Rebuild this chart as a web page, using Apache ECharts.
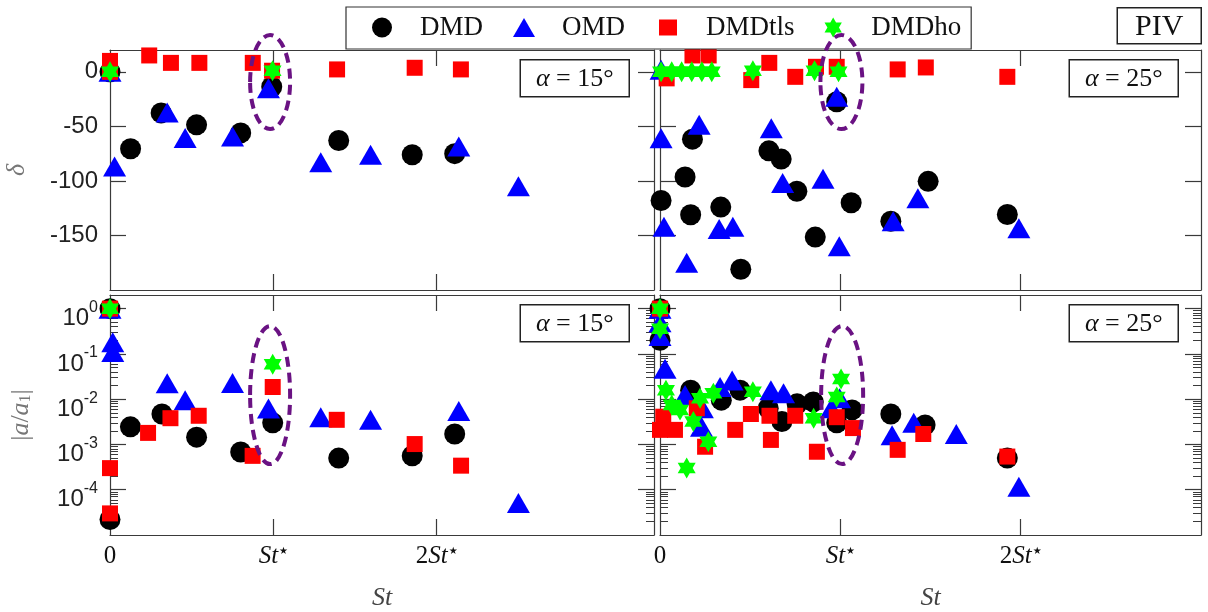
<!DOCTYPE html>
<html>
<head>
<meta charset="utf-8">
<script src="https://cdn.jsdelivr.net/npm/echarts@6/dist/echarts.min.js"></script>
<style>
  html, body { margin: 0; padding: 0; background: #fff; }
  #chart { width: 1208px; height: 612px; }
</style>
</head>
<body>
<div id="chart"></div>
<script>
// x is in units of St*; top row is delta, bottom row is |a/a1| (log)
const xTickValues = [1, 2];
const xLabelValues = [0, 1, 2];
const deltaTicks = [-150, -100, -50, 0];
const ampTicks = [1e-4, 1e-3, 1e-2, 1e-1, 1];
const ampMinorTicks = [
  2e-5, 3e-5, 4e-5, 5e-5, 6e-5, 7e-5, 8e-5, 9e-5,
  2e-4, 3e-4, 4e-4, 5e-4, 6e-4, 7e-4, 8e-4, 9e-4,
  2e-3, 3e-3, 4e-3, 5e-3, 6e-3, 7e-3, 8e-3, 9e-3,
  2e-2, 3e-2, 4e-2, 5e-2, 6e-2, 7e-2, 8e-2, 9e-2,
  0.2, 0.3, 0.4, 0.5, 0.6, 0.7, 0.8, 0.9, 2
];

// alpha = 15 deg, delta
const dmdDelta15 = [[0, 0], [0.126, -70.5], [0.313, -37.7], [0.53, -48.6], [0.80, -56], [0.99, -13.7], [1.40, -63], [1.85, -76], [2.11, -75]];
const omdDelta15 = [[0, 0], [0.028, -86.7], [0.35, -37.4], [0.46, -60.6], [0.75, -59.3], [0.97, -15], [1.29, -83], [1.595, -76], [2.135, -68.4], [2.50, -105]];
const tlsDelta15 = [[0, 0], [0, 10], [0.24, 15], [0.373, 8.2], [0.547, 8.2], [0.874, 8.2], [0.992, 1], [1.39, 2.2], [1.865, 3.7], [2.148, 2.2]];
const hoDelta15 = [[0, 0], [0.995, 1]];

// alpha = 25 deg, delta
const dmdDelta25 = [[0.18, -61.7], [0.139, -96.4], [0.006, -118], [0.17, -131], [0.337, -124], [0.448, -181], [0.604, -72.4], [0.672, -80], [0.759, -109.5], [0.861, -151.5], [0.98, -27.4], [1.06, -120], [1.28, -137], [1.487, -100.4], [1.926, -130.8]];
const omdDelta25 = [[0.006, 2], [0.006, -60.8], [0.217, -48.6], [0.022, -142], [0.148, -175], [0.328, -144], [0.404, -142], [0.617, -51.7], [0.68, -102], [0.904, -98], [0.98, -22.8], [0.994, -160], [1.293, -137], [1.43, -116], [1.99, -143.5]];
const tlsDelta25 = [[0.037, -6], [0.18, 15], [0.27, 15], [0.506, -7.6], [0.606, 8.2], [0.75, -4.6], [0.865, 4.6], [0.98, 4.6], [1.318, 2.2], [1.474, 4], [1.926, -4.6]];
const hoDelta25 = [[0.006, 0], [0.065, 0], [0.12, 0], [0.176, 0], [0.232, 0], [0.287, 0], [0.515, 1], [0.857, 1], [0.99, 0]];

// alpha = 15 deg, |a/a1|
const dmdAmp15 = [[0, 1], [0, 2.2e-5], [0.125, 2.45e-3], [0.318, 4.7e-3], [0.53, 1.45e-3], [0.80, 6.8e-4], [0.996, 3.0e-3], [1.40, 5.0e-4], [1.85, 5.6e-4], [2.11, 1.7e-3]];
const omdAmp15 = [[0, 1], [0.017, 0.18], [0.017, 0.11], [0.35, 0.0224], [0.46, 9.5e-3], [0.75, 0.0229], [0.97, 6.2e-3], [1.29, 4.0e-3], [1.595, 3.5e-3], [2.135, 5.5e-3], [2.50, 5.1e-5]];
const tlsAmp15 = [[0, 1], [0, 3.0e-4], [0, 3.0e-5], [0.233, 1.8e-3], [0.37, 3.8e-3], [0.543, 4.3e-3], [0.873, 5.6e-4], [0.996, 0.0186], [1.388, 3.5e-3], [1.865, 1.02e-3], [2.149, 3.4e-4]];
const hoAmp15 = [[0, 1], [0.996, 0.059]];

// alpha = 25 deg, |a/a1|
const dmdAmp25 = [[0, 1], [0, 0.2], [0.17, 0.0158], [0.34, 9.5e-3], [0.444, 0.0158], [0.60, 6.3e-3], [0.676, 3.2e-3], [0.76, 7.9e-3], [0.85, 8.7e-3], [0.98, 3.0e-3], [1.065, 5.8e-3], [1.28, 4.7e-3], [1.47, 2.7e-3], [1.926, 5.0e-4]];
const omdAmp25 = [[0, 1], [0, 0.5], [0, 0.25], [0.028, 0.047], [0.139, 0.0123], [0.23, 2.45e-3], [0.235, 6.3e-3], [0.333, 0.0186], [0.40, 0.026], [0.615, 0.0158], [0.685, 0.0135], [0.95, 6.3e-3], [0.996, 0.0105], [1.287, 1.6e-3], [1.407, 3.0e-3], [1.643, 1.7e-3], [1.99, 1.17e-4]];
const tlsAmp25 = [[0, 1], [0, 2.1e-3], [0.083, 2.1e-3], [0.018, 4.1e-3], [0.204, 6.3e-3], [0.25, 8.9e-4], [0.417, 2.1e-3], [0.504, 4.7e-3], [0.607, 4.3e-3], [0.615, 1.26e-3], [0.75, 4.3e-3], [0.87, 6.9e-4], [0.98, 4.0e-3], [1.07, 2.3e-3], [1.318, 7.6e-4], [1.46, 1.7e-3], [1.926, 5.4e-4]];
const hoAmp25 = [[0, 1], [0, 0.36], [0.033, 0.0158], [0.065, 7.4e-3], [0.111, 5.8e-3], [0.185, 3.2e-3], [0.268, 1.15e-3], [0.148, 3.0e-4], [0.222, 0.0105], [0.296, 0.0135], [0.515, 0.0145], [0.852, 3.8e-3], [0.98, 0.0112], [1.004, 0.028]];

const SERIF = 'Liberation Serif';
const SANS = 'Liberation Sans';
const LINE = '#3a3a3a';
const starPath = 'path://M0,-100L28.87,-50L86.6,-50L57.7,0L86.6,50L28.87,50L0,100L-28.87,50L-86.6,50L-57.7,0L-86.6,-50L-28.87,-50Z';

const methods = [
  { name: 'DMD', symbol: 'circle', size: 21, color: '#000000' },
  { name: 'OMD', symbol: 'triangle', size: [23, 20], color: '#0000ff' },
  { name: 'DMDtls', symbol: 'rect', size: 16, color: '#ff0000' },
  { name: 'DMDho', symbol: starPath, size: [18, 21], color: '#00ff00' },
];

const grids = [
  { left: 110, top: 50, width: 544, height: 240 },
  { left: 660, top: 50, width: 541, height: 240 },
  { left: 110, top: 295, width: 544, height: 240 },
  { left: 660, top: 295, width: 541, height: 240 },
];
const xMax = [3.33, 3.0, 3.33, 3.0];

const panelData = [
  [dmdDelta15, omdDelta15, tlsDelta15, hoDelta15],
  [dmdDelta25, omdDelta25, tlsDelta25, hoDelta25],
  [dmdAmp15, omdAmp15, tlsAmp15, hoAmp15],
  [dmdAmp25, omdAmp25, tlsAmp25, hoAmp25],
];

const chart = echarts.init(document.getElementById('chart'));

function xLabel(v) {
  if (v === 0) return '0';
  if (v === 1) return '{i|St}{s|★}';
  return '2{i|St}{s|★}';
}

const xAxis = [];
grids.forEach((g, gi) => {
  const bottomRow = gi >= 2;
  xAxis.push({
    type: 'value', gridIndex: gi, position: 'bottom', min: 0, max: xMax[gi],
    axisLine: { onZero: false, lineStyle: { color: LINE, width: 1.2 } },
    axisTick: { inside: true, length: 16, customValues: xTickValues, lineStyle: { color: LINE, width: 1.2 } },
    axisLabel: bottomRow ? {
      customValues: xLabelValues, margin: 9, formatter: xLabel,
      fontFamily: SERIF, fontSize: 25, color: '#111',
      rich: {
        i: { fontFamily: SERIF, fontStyle: 'italic', fontSize: 25, color: '#111' },
        s: { fontFamily: 'DejaVu Sans', fontSize: 10, color: '#111', verticalAlign: 'top', padding: [2, 0, 0, 1] },
      },
    } : { show: false },
    splitLine: { show: false },
    name: bottomRow ? '{i|St}' : '',
    nameLocation: 'middle', nameGap: 50,
    nameTextStyle: { rich: { i: { fontFamily: SERIF, fontStyle: 'italic', fontSize: 26, color: '#444' } } },
  });
  xAxis.push({
    type: 'value', gridIndex: gi, position: 'top', min: 0, max: xMax[gi],
    axisLine: { onZero: false, lineStyle: { color: LINE, width: 1.2 } },
    axisTick: { inside: true, length: 16, customValues: xTickValues, lineStyle: { color: LINE, width: 1.2 } },
    axisLabel: { show: false },
    splitLine: { show: false },
  });
});

const yAxis = [];
const leftY = [];
grids.forEach((g, gi) => {
  const isLog = gi >= 2;
  const isLeft = gi % 2 === 0;
  const base = isLog
    ? { type: 'log', logBase: 10, min: 1e-5, max: 2 }
    : { type: 'value', min: -200, max: 20 };
  const ticks = isLog ? ampTicks : deltaTicks;
  leftY.push(yAxis.length);
  yAxis.push(Object.assign({}, base, {
    gridIndex: gi, position: 'left',
    axisLine: { onZero: false, lineStyle: { color: LINE, width: 1.2 } },
    axisTick: { inside: true, length: 16, customValues: ticks, lineStyle: { color: LINE, width: 1.2 } },
    axisLabel: isLeft ? {
      customValues: ticks, margin: 12,
      fontFamily: SANS, fontSize: 24, color: '#222',
      padding: isLog ? [10, 0, 0, 0] : 0,
      formatter: isLog
        ? (v) => '{b|10}{s|' + Math.round(Math.log10(v)) + '}'
        : (v) => String(v),
      rich: {
        b: { fontFamily: SANS, fontSize: 24, color: '#222', padding: [10, 0, 0, 0] },
        s: { fontFamily: SANS, fontSize: 16, color: '#222', verticalAlign: 'top', padding: [3, 0, 0, 0] },
      },
    } : { show: false },
    splitLine: { show: false },
    name: isLeft ? (isLog ? '|{i|a}/{i|a}{d|1}|' : '{i|δ}') : '',
    nameLocation: 'middle', nameGap: isLog ? 76 : 80,
    nameTextStyle: {
      fontFamily: SERIF, fontSize: 26, color: '#777',
      rich: {
        i: { fontFamily: SERIF, fontStyle: 'italic', fontSize: 26, color: '#777' },
        d: { fontFamily: SERIF, fontSize: 16, color: '#777', verticalAlign: 'bottom' },
      },
    },
  }));
  yAxis.push(Object.assign({}, base, {
    gridIndex: gi, position: 'right',
    axisLine: { onZero: false, lineStyle: { color: LINE, width: 1.2 } },
    axisTick: { inside: true, length: 16, customValues: ticks, lineStyle: { color: LINE, width: 1.2 } },
    axisLabel: { show: false },
    splitLine: { show: false },
  }));
  if (isLog) {
    ['left', 'right'].forEach((pos) => {
      yAxis.push(Object.assign({}, base, {
        gridIndex: gi, position: pos,
        axisLine: { show: false, onZero: false },
        axisTick: { inside: true, length: 8, customValues: ampMinorTicks, lineStyle: { color: LINE, width: 1 } },
        axisLabel: { show: false },
        splitLine: { show: false },
      }));
    });
  }
});

const series = [];
panelData.forEach((sets, gi) => {
  sets.forEach((data, mi) => {
    const m = methods[mi];
    series.push({
      name: m.name, type: 'scatter',
      xAxisIndex: gi * 2, yAxisIndex: leftY[gi],
      symbol: m.symbol, symbolSize: m.size,
      itemStyle: { color: m.color, opacity: 1 },
      emphasis: { disabled: true },
      data: data,
    });
  });
});

function labelBox(id, right, top, w, h, text, fontSize) {
  return {
    type: 'group', id: id, right: right, top: top, z: 110,
    children: [
      { type: 'rect', shape: { x: 0, y: 0, width: w, height: h }, style: { fill: '#fff', stroke: '#222', lineWidth: 1.5 } },
      {
        type: 'text', x: w / 2, y: h / 2 + 1,
        style: {
          text: text, align: 'center', verticalAlign: 'middle',
          font: fontSize + 'px "' + SERIF + '"', fill: '#111',
          rich: { i: { fontFamily: SERIF, fontStyle: 'italic', fontSize: fontSize, fill: '#111' } },
        },
      },
    ],
  };
}

chart.setOption({
  animation: false,
  grid: grids,
  xAxis: xAxis,
  yAxis: yAxis,
  legend: {
    left: 346, top: 7,
    padding: [7, 10, 8, 26],
    itemGap: 30, itemWidth: 22, itemHeight: 20,
    selectedMode: false,
    borderColor: '#333', borderWidth: 1.2, backgroundColor: '#fff',
    textStyle: { fontFamily: SERIF, fontSize: 27, color: '#111', padding: [0, 0, 0, 22] },
    data: [
      { name: 'DMD', icon: 'circle' },
      { name: 'OMD', icon: 'path://M11.5,0L23,20L0,20Z' },
      { name: 'DMDtls', icon: 'rect', itemStyle: { borderColor: '#fff', borderWidth: 4 } },
      { name: 'DMDho', icon: starPath },
    ],
  },
  graphic: [
    labelBox('piv', 6, 7, 84, 36, 'PIV', 30),
    labelBox('a1', 578, 59, 109, 37, '{i|α} = 15°', 26),
    labelBox('a2', 29, 59, 109, 37, '{i|α} = 25°', 26),
    labelBox('a3', 578, 304, 109, 37, '{i|α} = 15°', 26),
    labelBox('a4', 29, 304, 109, 37, '{i|α} = 25°', 26),
  ],
  series: series,
});

// dashed ellipses around the St* modes, centred in data coordinates
const ellipses = [
  { grid: 0, at: [0.98, -9.4], rx: 20, ry: 47 },
  { grid: 1, at: [1.006, -9.4], rx: 21, ry: 47 },
  { grid: 2, at: [0.98, 0.0123], rx: 20, ry: 69 },
  { grid: 3, at: [1.01, 0.0123], rx: 21, ry: 69 },
];
chart.setOption({
  graphic: ellipses.map((e, i) => {
    const p = chart.convertToPixel({ xAxisIndex: e.grid * 2, yAxisIndex: leftY[e.grid] }, e.at);
    return {
      type: 'ellipse', id: 'ell' + i, z: 100,
      shape: { cx: p[0], cy: p[1], rx: e.rx, ry: e.ry },
      style: { fill: 'none', stroke: '#6a1283', lineWidth: 4, lineDash: [10, 6] },
    };
  }),
});
</script>
</body>
</html>
